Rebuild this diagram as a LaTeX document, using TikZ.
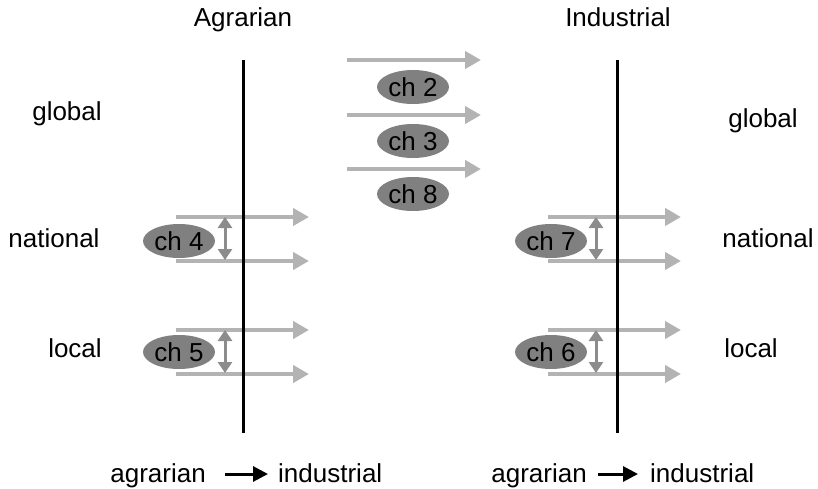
\documentclass[tikz,border=0pt]{standalone}
\usepackage{fontspec}
\setmainfont{Liberation Sans}
\usetikzlibrary{arrows.meta,shapes.geometric}
\definecolor{arrgray}{HTML}{B3B3B3}
\definecolor{dblgray}{HTML}{8C8C8C}
\definecolor{ellgray}{HTML}{808080}
\tikzset{
  lbl/.style={font=\fontsize{26}{31}\selectfont, inner sep=0pt, anchor=base},
  chap/.style={ellipse, fill=ellgray, minimum width=72pt, minimum height=34pt, inner sep=0pt, font=\fontsize{26}{31}\selectfont},
  flow/.style={draw=arrgray, line width=4pt, -{Triangle[length=16pt,width=17pt]}},
  span/.style={draw=dblgray, line width=3pt, {Triangle[length=11pt,width=14pt]}-{Triangle[length=11pt,width=14pt]}, shorten <=-1pt, shorten >=-1pt},
  axis/.style={draw=black, line width=3pt},
  trans/.style={draw=black, line width=3pt, -{Triangle[length=15pt,width=15pt]}}
}
\begin{document}
\begin{tikzpicture}[x=1pt,y=-1pt]
\useasboundingbox (0,0) rectangle (818,489);
% titles
\node[lbl] (tA) at (243,27) {Agrarian};
\node[lbl] (tI) at (618,27) {Industrial};
% level labels
\node[lbl] (gL) at (67,121) {global};
\node[lbl] (gR) at (763,128) {global};
\node[lbl] (nL) at (54,247) {national};
\node[lbl] (nR) at (768,247) {national};
\node[lbl] (lL) at (75,357) {local};
\node[lbl] (lR) at (751,357) {local};
% top arrows
\foreach \y [count=\i] in {60,115,169}{
  \coordinate (ts\i) at (347,\y);
  \coordinate (te\i) at (481,\y);
  \draw[flow] (ts\i) -- (te\i);
}
\node[chap] (c2) at (413,87) {ch 2};
\node[chap] (c3) at (413,141) {ch 3};
\node[chap] (c8) at (413,194) {ch 8};
% side arrow groups
\foreach \x/\s/\y/\nm in {176/225/217/ln, 176/225/330/ll, 548/596/217/rn, 548/596/330/rl}{
  \coordinate (\nm a1) at (\x,\y);
  \coordinate (\nm b1) at (\x+133,\y);
  \coordinate (\nm a2) at (\x,\y+44);
  \coordinate (\nm b2) at (\x+133,\y+44);
  \coordinate (\nm u) at (\s,\y+1);
  \coordinate (\nm d) at (\s,\y+42);
  \draw[flow] (\nm a1) -- (\nm b1);
  \draw[flow] (\nm a2) -- (\nm b2);
  \draw[span] (\nm u) -- (\nm d);
}
\node[chap] (c4) at (179,241) {ch 4};
\node[chap] (c5) at (179,352) {ch 5};
\node[chap] (c7) at (551,241) {ch 7};
\node[chap] (c6) at (551,352) {ch 6};
% axes
\coordinate (axLt) at (243,60);
\coordinate (axLb) at (243,433);
\coordinate (axRt) at (617,60);
\coordinate (axRb) at (617,433);
\draw[axis] (axLt) -- (axLb);
\draw[axis] (axRt) -- (axRb);
% bottom transitions
\node[lbl, anchor=base east] (ag1) at (206,482) {agrarian};
\node[lbl, anchor=base west] (in1) at (278,482) {industrial};
\coordinate (s1) at (225,474);
\coordinate (e1) at (268,474);
\draw[trans] (s1) -- (e1);
\node[lbl, anchor=base east] (ag2) at (587,482) {agrarian};
\node[lbl, anchor=base west] (in2) at (650,482) {industrial};
\coordinate (s2) at (598,474);
\coordinate (e2) at (638,474);
\draw[trans] (s2) -- (e2);
\end{tikzpicture}
\end{document}
